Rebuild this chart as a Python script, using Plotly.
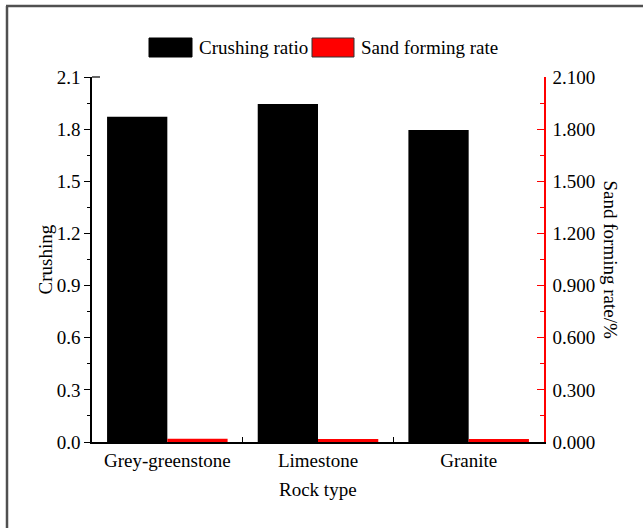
import plotly.graph_objects as go

rock_types = ["Grey-greenstone", "Limestone", "Granite"]
crushing_ratio = [1.872, 1.945, 1.795]
sand_forming_rate = [0.019, 0.017, 0.017]
y_ticks = [0.0, 0.3, 0.6, 0.9, 1.2, 1.5, 1.8, 2.1]

FONT = "Liberation Serif"
W, H = 643, 528
L, R, T, B = 92, 99, 77, 86
PW, PH = W - L - R, H - T - B


def px(x):
    return (x - L) / PW


def py(y):
    return (H - B - y) / PH


fig = go.Figure()
fig.add_trace(go.Bar(
    x=rock_types, y=crushing_ratio, name="Crushing ratio",
    marker=dict(color="black", line=dict(width=0)),
    offsetgroup="a", yaxis="y", showlegend=False,
))
fig.add_trace(go.Bar(
    x=rock_types, y=sand_forming_rate, name="Sand forming rate",
    marker=dict(color="#ff0000", line=dict(width=0)),
    offsetgroup="b", yaxis="y2", showlegend=False,
))

axis_font = dict(family=FONT, size=19, color="black")

fig.update_layout(
    width=W, height=H,
    margin=dict(l=L, r=R, t=T, b=B, autoexpand=False),
    paper_bgcolor="white", plot_bgcolor="white",
    font=axis_font,
    barmode="group", bargap=0.2, bargroupgap=0,
    xaxis=dict(
        type="category", range=[-0.5, 2.5],
        showline=True, linecolor="black", linewidth=1.5,
        ticks="inside", tickson="boundaries", ticklen=5, tickwidth=1.2, tickcolor="black",
        showgrid=False, zeroline=False, tickfont=axis_font,
    ),
    yaxis=dict(
        range=[0, 2.1], tickvals=y_ticks, ticktext=[f"{v:.1f}" for v in y_ticks],
        showline=True, linecolor="black", linewidth=1.5,
        ticks="outside", ticklen=6, tickwidth=1.2, tickcolor="black",
        minor=dict(dtick=0.15, ticks="outside", ticklen=3, tickwidth=1.2, tickcolor="black", showgrid=False),
        showgrid=False, zeroline=False, tickfont=axis_font,
    ),
    yaxis2=dict(
        overlaying="y", side="right", anchor="x",
        range=[0, 2.1], tickvals=y_ticks, ticktext=[f"{v:.3f}" for v in y_ticks],
        showline=True, linecolor="#ff0000", linewidth=1.5,
        ticks="inside", ticklen=7, tickwidth=1.2, tickcolor="#ff0000",
        ticklabelstandoff=3,
        minor=dict(dtick=0.15, ticks="inside", ticklen=4, tickwidth=1.2, tickcolor="#ff0000", showgrid=False),
        showgrid=False, zeroline=False, tickfont=axis_font,
    ),
)

shapes = [
    # outer frame (left and top edges)
    dict(type="line", xref="paper", yref="paper", x0=px(7), x1=px(7), y0=py(H + 2), y1=py(6),
         line=dict(color="#505050", width=2.5)),
    dict(type="line", xref="paper", yref="paper", x0=px(6), x1=px(W + 2), y0=py(6), y1=py(6),
         line=dict(color="#505050", width=2.5)),
    # short stub at the top of the left axis
    dict(type="line", xref="paper", yref="paper", x0=0, x1=px(L + 8), y0=1, y1=1,
         line=dict(color="black", width=1.2)),
    # legend swatches
    dict(type="rect", xref="paper", yref="paper", x0=px(149), x1=px(192), y0=py(57), y1=py(38),
         fillcolor="black", line=dict(color="black", width=1)),
    dict(type="rect", xref="paper", yref="paper", x0=px(312), x1=px(354), y0=py(57), y1=py(38),
         fillcolor="#ff0000", line=dict(color="#333333", width=1)),
]
fig.update_layout(shapes=shapes)

annotations = [
    dict(text="Crushing ratio", x=px(197), y=py(47.5), xanchor="left", yanchor="middle"),
    dict(text="Sand forming rate", x=px(359), y=py(47.5), xanchor="left", yanchor="middle"),
    dict(text="Crushing", x=px(45), y=0.5, textangle=-90, xanchor="center", yanchor="middle"),
    dict(text="Sand forming rate/%", x=px(610), y=0.5, textangle=90, xanchor="center", yanchor="middle"),
    dict(text="Rock type", x=0.5, y=py(490), xanchor="center", yanchor="middle"),
]
for a in annotations:
    a.update(xref="paper", yref="paper", showarrow=False, font=axis_font)
fig.update_layout(annotations=annotations)

fig.write_html("out.html")
